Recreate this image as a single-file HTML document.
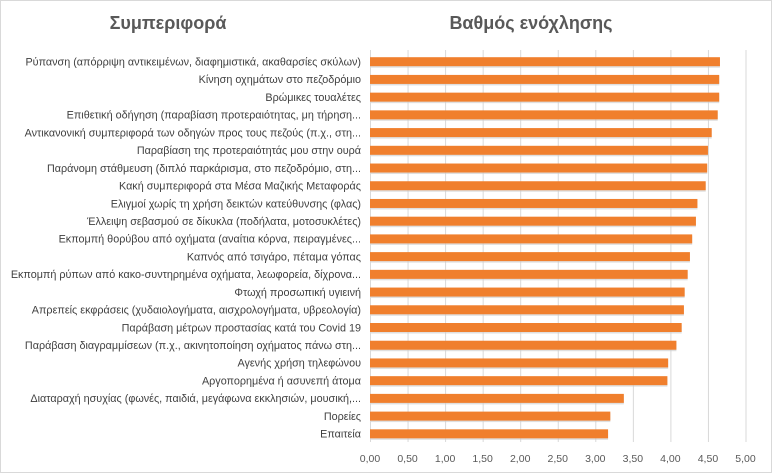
<!DOCTYPE html>
<html><head><meta charset="utf-8"><style>
body{margin:0;background:#fff}
svg{display:block;font-family:"Liberation Sans","DejaVu Sans",sans-serif}
</style></head><body>
<svg width="772" height="474" viewBox="0 0 772 474">
<rect x="0.5" y="0.5" width="771" height="472" fill="#fff" stroke="#d9d9d9"/>
<text x="168" y="29" text-anchor="middle" font-size="18" font-weight="bold" fill="#595959">Συμπεριφορά</text>
<text x="531" y="29" text-anchor="middle" font-size="18" font-weight="bold" fill="#595959">Βαθμός ενόχλησης</text>
<g stroke="#d9d9d9" stroke-width="1" id="grid"></g>
<g id="bars"></g>
<g id="labels" font-size="10.8" fill="#404040" text-anchor="end"></g>
<g id="ticks" font-size="10.5" fill="#595959" text-anchor="middle"></g>
</svg>
<script>
var ns="http://www.w3.org/2000/svg";
function el(t,a,p,txt){var e=document.createElementNS(ns,t);for(var k in a)e.setAttribute(k,a[k]);if(txt)e.textContent=txt;document.getElementById(p).appendChild(e);}
var x0=370,sc=75.1;
for(var i=0;i<=10;i++){var x=x0+i*sc/2;el('line',{x1:x+0.5,x2:x+0.5,y1:50,y2:442},'grid');
el('text',{x:x,y:462},'ticks',(i*0.5).toFixed(2).replace('.',','));}
var d=[["Ρύπανση (απόρριψη αντικειμένων,  διαφημιστικά,  ακαθαρσίες σκύλων)",4.66],
["Κίνηση  οχημάτων στο πεζοδρόμιο",4.65],["Βρώμικες τουαλέτες",4.65],
["Επιθετική  οδήγηση  (παραβίαση προτεραιότητας, μη τήρηση...",4.63],
["Αντικανονική  συμπεριφορά των οδηγών προς τους πεζούς (π.χ., στη...",4.55],
["Παραβίαση  της προτεραιότητάς μου στην ουρά",4.50],
["Παράνομη  στάθμευση  (διπλό παρκάρισμα, στο πεζοδρόμιο, στη...",4.49],
["Κακή  συμπεριφορά στα Μέσα Μαζικής Μεταφοράς",4.47],
["Ελιγμοί χωρίς τη χρήση  δεικτών κατεύθυνσης (φλας)",4.36],
["Έλλειψη σεβασμού σε δίκυκλα  (ποδήλατα, μοτοσυκλέτες)",4.34],
["Εκπομπή θορύβου από οχήματα (αναίτια κόρνα, πειραγμένες...",4.29],
["Καπνός από τσιγάρο, πέταμα γόπας",4.26],
["Εκπομπή ρύπων από κακο-συντηρημένα οχήματα, λεωφορεία, δίχρονα...",4.23],
["Φτωχή  προσωπική υγιεινή",4.19],
["Απρεπείς εκφράσεις  (χυδαιολογήματα, αισχρολογήματα, υβρεολογία)",4.18],
["Παράβαση  μέτρων προστασίας κατά του Covid 19",4.15],
["Παράβαση διαγραμμίσεων  (π.χ., ακινητοποίηση  οχήματος πάνω στη...",4.08],
["Αγενής  χρήση τηλεφώνου",3.97],["Αργοπορημένα ή ασυνεπή άτομα",3.96],
["Διαταραχή ησυχίας (φωνές, παιδιά, μεγάφωνα εκκλησιών,  μουσική,...",3.38],
["Πορείες",3.20],["Επαιτεία",3.17]];
d.forEach(function(r,i){var y=61.7+i*17.72;
el('rect',{x:x0+1,y:y-4.5+1.5,width:r[1]*sc-1,height:9,fill:'#c9c9c9',opacity:0.6},'bars');
el('rect',{x:x0,y:y-4.5,width:r[1]*sc,height:9,fill:'#f07f2d'},'bars');
el('text',{x:361,y:y+3.8},'labels',r[0]);});
</script>
</body></html>
